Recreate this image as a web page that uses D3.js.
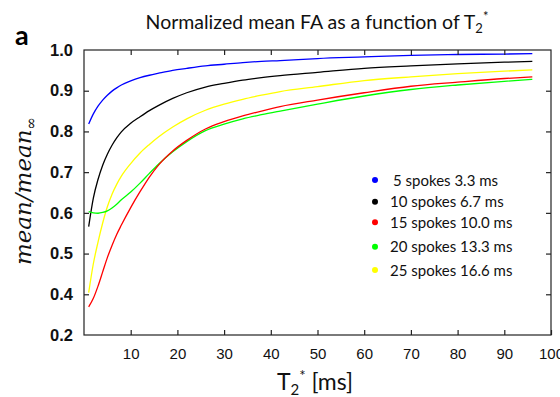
<!DOCTYPE html>
<html>
<head>
<meta charset="utf-8">
<script src="https://cdn.jsdelivr.net/npm/d3@7"></script>
<style>
  body { margin: 0; background: #fff; }
  svg { display: block; font-family: Lato, "Open Sans", sans-serif; }
</style>
</head>
<body>
<div id="wrapper"></div>
<script>
// data
const t2 = [1, 2, 3, 4, 5, 6, 7, 8, 10, 12, 14, 16, 19, 22, 26, 30, 34, 38, 42, 50, 60, 70, 80, 90, 96]
const spokes5 = [0.818, 0.843, 0.862, 0.877, 0.889, 0.899, 0.907, 0.914, 0.924, 0.932, 0.938, 0.943, 0.950, 0.955, 0.961, 0.965, 0.969, 0.972, 0.974, 0.979, 0.983, 0.987, 0.989, 0.990, 0.991]
const spokes10 = [0.566, 0.636, 0.682, 0.717, 0.744, 0.766, 0.784, 0.799, 0.820, 0.836, 0.851, 0.864, 0.881, 0.895, 0.909, 0.918, 0.926, 0.932, 0.937, 0.945, 0.955, 0.961, 0.966, 0.970, 0.972]
const spokes15 = [0.369, 0.390, 0.420, 0.455, 0.490, 0.520, 0.547, 0.570, 0.613, 0.652, 0.688, 0.718, 0.752, 0.778, 0.806, 0.824, 0.838, 0.850, 0.861, 0.877, 0.895, 0.911, 0.921, 0.930, 0.934]
const spokes20 = [0.603, 0.600, 0.599, 0.601, 0.605, 0.612, 0.621, 0.632, 0.651, 0.673, 0.697, 0.720, 0.750, 0.775, 0.802, 0.818, 0.831, 0.841, 0.850, 0.867, 0.887, 0.903, 0.914, 0.923, 0.928]
const spokes25 = [0.404, 0.475, 0.528, 0.575, 0.615, 0.646, 0.670, 0.690, 0.721, 0.747, 0.768, 0.787, 0.811, 0.831, 0.852, 0.867, 0.879, 0.889, 0.898, 0.910, 0.925, 0.934, 0.942, 0.948, 0.951]

const seriesNames = ["5 spokes 3.3 ms", "10 spokes 6.7 ms", "15 spokes 10.0 ms", "20 spokes 13.3 ms", "25 spokes 16.6 ms"]
const seriesColors = ["#0000ff", "#000000", "#ff0000", "#00ff00", "#ffff00"]
const seriesValues = [spokes5, spokes10, spokes15, spokes20, spokes25]
const drawOrder = [0, 1, 4, 3, 2]

const xTicks = [10, 20, 30, 40, 50, 60, 70, 80, 90, 100]
const yTicks = [0.3, 0.4, 0.5, 0.6, 0.7, 0.8, 0.9, 1.0]
const yTickLabels = ["0.2", "0.4", "0.5", "0.6", "0.7", "0.8", "0.9", "1.0"]

const dimensions = {
  width: 560,
  height: 397,
  margin: { top: 50, right: 9, bottom: 62, left: 84 },
}
dimensions.boundedWidth = dimensions.width - dimensions.margin.left - dimensions.margin.right
dimensions.boundedHeight = dimensions.height - dimensions.margin.top - dimensions.margin.bottom

const svg = d3.select("#wrapper").append("svg")
  .attr("width", dimensions.width)
  .attr("height", dimensions.height)

const bounds = svg.append("g")
  .attr("transform", `translate(${dimensions.margin.left},${dimensions.margin.top})`)

const xScale = d3.scaleLinear().domain([0, 100]).range([0, dimensions.boundedWidth])
const yScale = d3.scaleLinear().domain([0.3, 1.0]).range([dimensions.boundedHeight, 0])

// curves
const lineGen = d3.line()
  .x((d, i) => xScale(t2[i]))
  .y(d => yScale(d))
  .curve(d3.curveMonotoneX)

drawOrder.forEach(k => {
  bounds.append("path")
    .datum(seriesValues[k])
    .attr("d", lineGen)
    .attr("fill", "none")
    .attr("stroke", seriesColors[k])
    .attr("stroke-width", 1.3)
})

// axes, ticks pointing inward
const tickLen = 5
const xAxisBottom = bounds.append("g")
  .attr("transform", `translate(0,${dimensions.boundedHeight})`)
  .call(d3.axisBottom(xScale).tickValues(xTicks).tickSize(-tickLen).tickPadding(13).tickFormat(d3.format("d")))
xAxisBottom.selectAll("text").style("font-size", "15px").attr("fill", "#111")

const xAxisTop = bounds.append("g")
  .call(d3.axisTop(xScale).tickValues(xTicks.slice(0, -1)).tickSize(-tickLen).tickFormat(""))

const yAxisLeft = bounds.append("g")
  .call(d3.axisLeft(yScale).tickValues(yTicks).tickSize(-tickLen).tickPadding(11)
    .tickFormat((d, i) => yTickLabels[i]))
yAxisLeft.selectAll("text").style("font-size", "16.5px").style("font-weight", "600").attr("fill", "#111")

const yAxisRight = bounds.append("g")
  .attr("transform", `translate(${dimensions.boundedWidth},0)`)
  .call(d3.axisRight(yScale).tickValues(yTicks.slice(1, -1)).tickSize(-tickLen).tickFormat(""))

;[xAxisBottom, xAxisTop, yAxisLeft, yAxisRight].forEach(a => {
  a.select(".domain").remove()
  a.selectAll("line").attr("stroke", "#222").attr("stroke-width", 1.2)
})
yAxisLeft.selectAll(".tick").filter(d => d === 0.3 || d === 1.0).select("line").remove()

bounds.append("rect")
  .attr("width", dimensions.boundedWidth)
  .attr("height", dimensions.boundedHeight)
  .attr("fill", "none")
  .attr("stroke", "#222")
  .attr("stroke-width", 1.2)

// legend
const legend = bounds.append("g")
  .attr("transform", `translate(${375 - dimensions.margin.left},${180 - dimensions.margin.top})`)
const legendGap = [0, 21.7, 42.3, 66.7, 90]
seriesNames.forEach((name, i) => {
  const row = legend.append("g").attr("transform", `translate(0,${legendGap[i]})`)
  row.append("circle").attr("r", 3).attr("fill", seriesColors[i])
  row.append("text")
    .attr("x", i === 0 ? 18 : 15)
    .attr("y", 5.5)
    .style("font-size", "15px")
    .attr("fill", "#111")
    .text(name)
})

// title
const title = svg.append("text")
  .attr("x", 317)
  .attr("y", 29)
  .attr("text-anchor", "middle")
  .style("font-size", "19.5px")
  .attr("fill", "#111")
title.append("tspan").text("Normalized mean FA as a function of T")
title.append("tspan").attr("dy", 4).style("font-size", "13px").text("2")
title.append("tspan").attr("dy", -12).style("font-size", "13px").text("*")

svg.append("text")
  .attr("x", 15)
  .attr("y", 45)
  .style("font-size", "27px")
  .style("font-weight", "700")
  .text("a")

// axis titles
const xTitle = svg.append("text")
  .attr("x", 315)
  .attr("y", 390)
  .attr("text-anchor", "middle")
  .style("font-size", "23px")
  .attr("fill", "#111")
xTitle.append("tspan").text("T")
xTitle.append("tspan").attr("dy", 5).style("font-size", "15px").text("2")
xTitle.append("tspan").attr("dy", -14).style("font-size", "15px").text("*")
xTitle.append("tspan").attr("dy", 9).text(" [ms]")

const yTitle = svg.append("text")
  .attr("transform", "translate(31,191) rotate(-90)")
  .attr("text-anchor", "middle")
  .style("font-family", "'DejaVu Serif', serif")
  .style("font-style", "italic")
  .style("font-size", "23px")
  .attr("fill", "#111")
yTitle.append("tspan").text("mean/mean")
yTitle.append("tspan").attr("dy", 5).style("font-size", "15px").text("∞")
</script>
</body>
</html>
